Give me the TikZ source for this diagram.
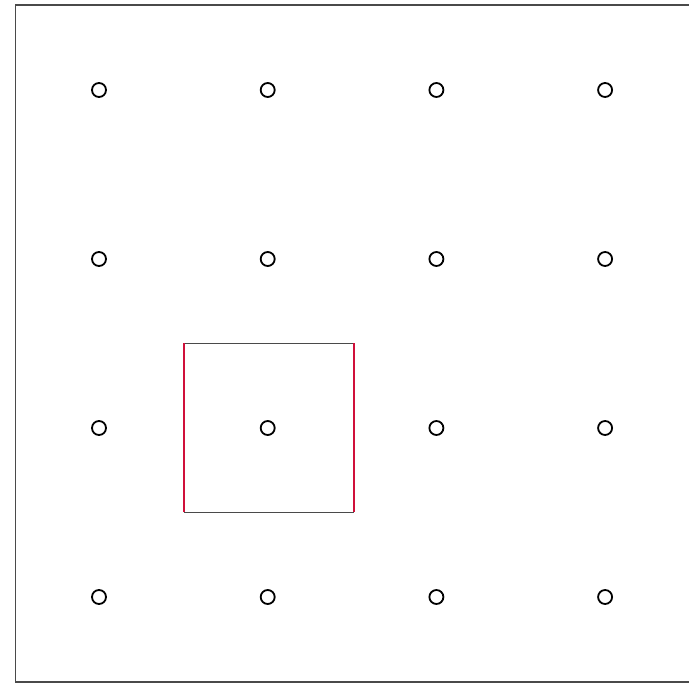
\documentclass[tikz,border=0pt]{standalone}
\definecolor{framegray}{HTML}{4A4A4A}
\definecolor{sidered}{HTML}{D0103A}
\tikzset{
  peg/.style={circle, draw=black, line width=1.8pt, minimum size=14pt, inner sep=0pt},
}
\begin{document}
\begin{tikzpicture}[x=1pt,y=-1pt]
  \def\D{168.7} \def\S{169}
  \useasboundingbox (0,0) rectangle (689,684);
  % frame (right side lies outside the picture)
  \draw[framegray, line width=1.8pt] (692,5) -- (15.5,5) -- (15.5,682) -- (692,682);
  % pegs
  \foreach \i in {0,...,3} {
    \foreach \j in {0,...,3} {
      \node[peg] (p\i\j) at (99+\i*\D, 90+\j*\S) {};
    }
  }
  % square round the peg p12
  \coordinate (sq1) at ([shift={(-84,-84.5)}]p12.center);
  \coordinate (sq2) at ([shift={(86,-84.5)}]p12.center);
  \coordinate (sq3) at ([shift={(86,84.5)}]p12.center);
  \coordinate (sq4) at ([shift={(-84,84.5)}]p12.center);
  \draw[framegray, line width=1.4pt] (sq1) -- (sq2) (sq3) -- (sq4);
  \draw[sidered, line width=1.6pt] (sq2) -- (sq3) (sq4) -- (sq1);
\end{tikzpicture}
\end{document}
